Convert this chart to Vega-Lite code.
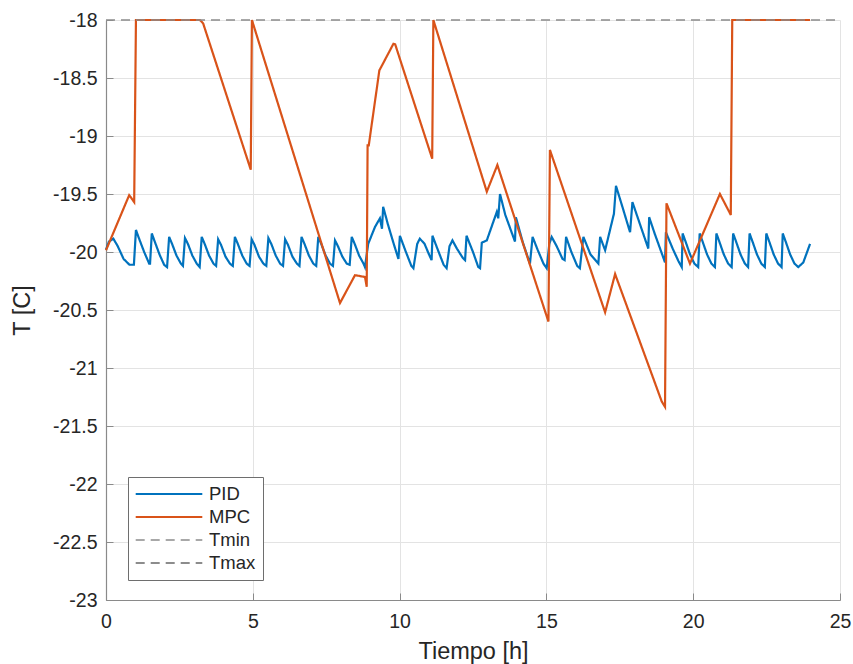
{
  "$schema": "https://vega.github.io/schema/vega-lite/v6.json",
  "autosize": "none",
  "width": 734,
  "height": 580,
  "padding": {"left": 106, "top": 20, "right": 13, "bottom": 64},
  "background": "white",
  "config": {
    "font": "Liberation Sans",
    "view": {"stroke": null},
    "axis": {
      "gridColor": "#E3E3E3",
      "gridWidth": 1,
      "domainColor": "#8A8A8A",
      "domainWidth": 1.2,
      "tickColor": "#8A8A8A",
      "labelColor": "#262626",
      "titleColor": "#262626",
      "labelFontSize": 19.5,
      "titleFontSize": 23.5,
      "titleFontWeight": "normal",
      "labelFont": "Liberation Sans",
      "titleFont": "Liberation Sans",
      "labelFlush": false
    }
  },
  "datasets": {
    "pid": [
      {"t":0,"T":-19.98},{"t":0.1,"T":-19.91},{"t":0.25,"T":-19.885},{"t":0.4,"T":-19.95},{"t":0.6,"T":-20.06},{"t":0.8,"T":-20.11},{"t":0.95,"T":-20.11},
      {"t":1.02,"T":-19.81},{"t":1.12,"T":-19.88},{"t":1.3,"T":-20.0},{"t":1.47,"T":-20.1},{"t":1.5,"T":-20.1},
      {"t":1.56,"T":-19.84},{"t":1.66,"T":-19.91},{"t":1.82,"T":-20.02},{"t":1.98,"T":-20.11},{"t":2.08,"T":-20.13},
      {"t":2.15,"T":-19.87},{"t":2.25,"T":-19.93},{"t":2.4,"T":-20.03},{"t":2.55,"T":-20.1},{"t":2.62,"T":-20.12},
      {"t":2.69,"T":-19.88},{"t":2.79,"T":-19.93},{"t":2.94,"T":-20.03},{"t":3.09,"T":-20.1},{"t":3.19,"T":-20.13},
      {"t":3.26,"T":-19.87},{"t":3.36,"T":-19.93},{"t":3.51,"T":-20.03},{"t":3.66,"T":-20.1},{"t":3.75,"T":-20.12},
      {"t":3.82,"T":-19.89},{"t":3.92,"T":-19.94},{"t":4.07,"T":-20.04},{"t":4.22,"T":-20.1},{"t":4.32,"T":-20.12},
      {"t":4.39,"T":-19.87},{"t":4.49,"T":-19.93},{"t":4.64,"T":-20.03},{"t":4.79,"T":-20.1},{"t":4.89,"T":-20.12},
      {"t":4.96,"T":-19.89},{"t":5.06,"T":-19.94},{"t":5.21,"T":-20.04},{"t":5.36,"T":-20.1},{"t":5.46,"T":-20.12},
      {"t":5.53,"T":-19.88},{"t":5.63,"T":-19.93},{"t":5.78,"T":-20.03},{"t":5.93,"T":-20.1},{"t":6.03,"T":-20.12},
      {"t":6.1,"T":-19.89},{"t":6.2,"T":-19.94},{"t":6.35,"T":-20.04},{"t":6.5,"T":-20.1},{"t":6.59,"T":-20.12},
      {"t":6.66,"T":-19.87},{"t":6.76,"T":-19.93},{"t":6.91,"T":-20.03},{"t":7.06,"T":-20.1},{"t":7.16,"T":-20.12},
      {"t":7.23,"T":-19.87},{"t":7.33,"T":-19.93},{"t":7.48,"T":-20.03},{"t":7.63,"T":-20.1},{"t":7.73,"T":-20.12},
      {"t":7.8,"T":-19.9},{"t":7.9,"T":-19.95},{"t":8.05,"T":-20.04},{"t":8.2,"T":-20.1},{"t":8.3,"T":-20.11},
      {"t":8.37,"T":-19.87},{"t":8.47,"T":-19.93},{"t":8.62,"T":-20.03},{"t":8.77,"T":-20.1},{"t":8.82,"T":-20.13},
      {"t":8.93,"T":-19.93},{"t":9.16,"T":-19.785},{"t":9.33,"T":-19.71},{"t":9.4,"T":-19.8},{"t":9.44,"T":-19.61},{"t":9.6,"T":-19.76},{"t":9.8,"T":-19.93},{"t":9.96,"T":-20.06},
      {"t":10.01,"T":-19.86},{"t":10.2,"T":-19.99},{"t":10.4,"T":-20.12},{"t":10.47,"T":-20.14},{"t":10.6,"T":-19.93},{"t":10.69,"T":-19.885},{"t":10.85,"T":-19.93},{"t":11.0,"T":-20.02},{"t":11.09,"T":-20.07},
      {"t":11.12,"T":-19.86},{"t":11.3,"T":-19.98},{"t":11.5,"T":-20.11},{"t":11.6,"T":-20.14},{"t":11.7,"T":-19.95},{"t":11.8,"T":-19.9},{"t":11.95,"T":-19.97},{"t":12.15,"T":-20.05},{"t":12.23,"T":-20.07},
      {"t":12.28,"T":-19.86},{"t":12.5,"T":-20.0},{"t":12.68,"T":-20.13},{"t":12.74,"T":-20.14},{"t":12.8,"T":-19.92},{"t":12.97,"T":-19.9},{"t":13.31,"T":-19.655},{"t":13.36,"T":-19.71},{"t":13.42,"T":-19.5},
      {"t":13.6,"T":-19.68},{"t":13.93,"T":-19.91},{"t":13.96,"T":-19.7},{"t":14.2,"T":-19.92},{"t":14.44,"T":-20.1},{"t":14.53,"T":-19.87},{"t":14.7,"T":-19.98},{"t":14.9,"T":-20.1},{"t":15.01,"T":-20.14},
      {"t":15.1,"T":-19.93},{"t":15.18,"T":-19.87},{"t":15.35,"T":-19.95},{"t":15.55,"T":-20.06},{"t":15.62,"T":-20.07},{"t":15.67,"T":-19.87},{"t":15.85,"T":-20.0},{"t":16.05,"T":-20.12},{"t":16.14,"T":-20.14},
      {"t":16.26,"T":-19.87},{"t":16.5,"T":-20.02},{"t":16.77,"T":-20.1},{"t":16.83,"T":-19.87},{"t":17.0,"T":-19.985},{"t":17.3,"T":-19.67},{"t":17.37,"T":-19.43},{"t":17.6,"T":-19.62},{"t":17.85,"T":-19.83},
      {"t":17.93,"T":-19.57},{"t":18.2,"T":-19.77},{"t":18.47,"T":-19.97},{"t":18.5,"T":-19.7},{"t":18.7,"T":-19.85},{"t":18.9,"T":-19.99},{"t":19.04,"T":-20.09},{"t":19.07,"T":-19.83},{"t":19.3,"T":-19.97},{"t":19.5,"T":-20.08},{"t":19.61,"T":-20.13},
      {"t":19.64,"T":-19.84},{"t":19.74,"T":-19.91},{"t":19.89,"T":-20.02},{"t":20.04,"T":-20.1},{"t":20.17,"T":-20.13},
      {"t":20.22,"T":-19.84},{"t":20.32,"T":-19.91},{"t":20.47,"T":-20.02},{"t":20.62,"T":-20.1},{"t":20.74,"T":-20.13},
      {"t":20.79,"T":-19.84},{"t":20.89,"T":-19.91},{"t":21.04,"T":-20.02},{"t":21.19,"T":-20.1},{"t":21.31,"T":-20.13},
      {"t":21.36,"T":-19.84},{"t":21.46,"T":-19.91},{"t":21.61,"T":-20.02},{"t":21.76,"T":-20.1},{"t":21.87,"T":-20.13},
      {"t":21.92,"T":-19.84},{"t":22.02,"T":-19.91},{"t":22.17,"T":-20.02},{"t":22.32,"T":-20.1},{"t":22.44,"T":-20.13},
      {"t":22.49,"T":-19.84},{"t":22.59,"T":-19.91},{"t":22.74,"T":-20.02},{"t":22.89,"T":-20.1},{"t":23.01,"T":-20.13},
      {"t":23.05,"T":-19.84},{"t":23.15,"T":-19.91},{"t":23.3,"T":-20.02},{"t":23.45,"T":-20.1},{"t":23.58,"T":-20.13},
      {"t":23.75,"T":-20.09},{"t":23.98,"T":-19.93}
    ],
    "mpc": [
      {"t":0,"T":-19.985},{"t":0.79,"T":-19.51},{"t":0.85,"T":-19.53},{"t":0.96,"T":-19.57},{"t":1.02,"T":-18.0},
      {"t":3.2,"T":-18.0},{"t":3.31,"T":-18.03},{"t":4.93,"T":-19.29},{"t":4.97,"T":-18.0},
      {"t":7.97,"T":-20.44},{"t":8.48,"T":-20.2},{"t":8.82,"T":-20.215},{"t":8.88,"T":-20.3},{"t":8.91,"T":-19.08},{"t":8.95,"T":-19.08},
      {"t":9.31,"T":-18.435},{"t":9.79,"T":-18.205},{"t":9.85,"T":-18.21},{"t":11.11,"T":-19.195},{"t":11.15,"T":-18.0},
      {"t":12.97,"T":-19.48},{"t":13.33,"T":-19.25},{"t":15.07,"T":-20.6},{"t":15.12,"T":-19.12},
      {"t":17.0,"T":-20.52},{"t":17.34,"T":-20.19},{"t":18.93,"T":-21.29},{"t":19.04,"T":-21.335},{"t":19.09,"T":-19.58},
      {"t":19.89,"T":-20.1},{"t":20.91,"T":-19.5},{"t":21.28,"T":-19.68},{"t":21.33,"T":-18.0},{"t":23.98,"T":-18.0}
    ],
    "lims": [
      {"t":0,"T":-18,"s":"Tmax"},{"t":25,"T":-18,"s":"Tmax"}
    ]
  },
  "encoding": {
    "x": {"field": "t", "type": "quantitative",
      "scale": {"domain": [0, 25], "nice": false, "zero": false},
      "axis": {"title": "Tiempo [h]", "values": [0,5,10,15,20,25], "tickSize": -7, "labelPadding": 19, "titlePadding": 9, "grid": true}},
    "y": {"field": "T", "type": "quantitative",
      "scale": {"domain": [-23, -18], "nice": false, "zero": false},
      "axis": {"title": "T [C]", "values": [-23,-22.5,-22,-21.5,-21,-20.5,-20,-19.5,-19,-18.5,-18], "labelExpr": "toString(datum.value)", "tickSize": -7, "labelPadding": 16, "titlePadding": 18, "grid": true}},
    "color": {"field": "s", "type": "nominal",
      "scale": {"domain": ["PID","MPC","Tmin","Tmax"], "range": ["#0072BD","#D95319","#A8A8A8","#8C8C8C"]},
      "legend": {"title": null, "orient": "none", "legendX": 22, "legendY": 457,
        "symbolType": "M-3.7,0H3.7", "symbolSize": 324, "symbolStrokeWidth": 2, "symbolOffset": 24,
        "labelFontSize": 18.5, "labelFont": "Liberation Sans", "labelColor": "#262626", "labelOffset": 30,
        "rowPadding": 3, "padding": 7, "fillColor": "white", "strokeColor": "#6E6E6E"}},
    "strokeDash": {"field": "s", "type": "nominal",
      "scale": {"domain": ["PID","MPC","Tmin","Tmax"], "range": [[1,0],[1,0],[9,6],[9,6]]},
      "legend": {"title": null, "orient": "none", "legendX": 22, "legendY": 457,
        "symbolType": "M-3.7,0H3.7", "symbolSize": 324, "symbolStrokeWidth": 2, "symbolOffset": 24,
        "labelFontSize": 18.5, "labelFont": "Liberation Sans", "labelColor": "#262626", "labelOffset": 30,
        "rowPadding": 3, "padding": 7, "fillColor": "white", "strokeColor": "#6E6E6E"}}
  },
  "layer": [
    {"data": {"name": "pid"}, "transform": [{"calculate": "'PID'", "as": "s"}], "mark": {"type": "line", "strokeWidth": 2.2}},
    {"data": {"name": "mpc"}, "transform": [{"calculate": "'MPC'", "as": "s"}], "mark": {"type": "line", "strokeWidth": 2.2}},
    {"data": {"name": "lims"}, "mark": {"type": "line", "strokeWidth": 1.4, "clip": false}}
  ]
}
